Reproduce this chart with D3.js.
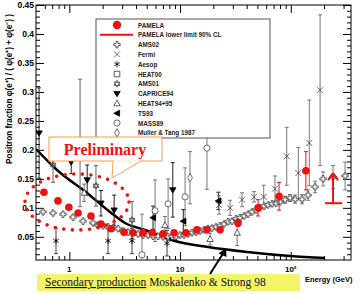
<!DOCTYPE html>
<html><head><meta charset="utf-8">
<script src="https://cdn.jsdelivr.net/npm/d3@7"></script>
<style>
html,body{margin:0;padding:0;background:#fff;}
svg{display:block;}
</style></head>
<body><svg id="c" width="360" height="294"></svg>
<script>
// ---------------- data ----------------
const yTickValues = [0.05,0.1,0.15,0.2,0.25,0.3,0.35,0.4,0.45];
const yTickLabels = ["0.05","0.1","0.15","0.2","0.25","0.3","0.35","0.4","0.45"];
const xTickValues = [1,10,100];
const xTickLabels = ["1","10","10²"];

const pamelaE   = [0.59,0.79,0.99,1.20,1.57,1.93,2.38,3.12,3.76,4.63,5.59,7.02,8.83,11.3,14.2,17.5,23.0,33.4,50.7,78.4,137];
const pamelaF   = [0.127,0.112,0.101,0.091,0.086,0.072,0.064,0.058,0.057,0.057,0.057,0.055,0.057,0.057,0.062,0.062,0.062,0.074,0.100,0.120,0.164];
const pamelaErr = [0.002,0.002,0.002,0.002,0.002,0.002,0.002,0.002,0.002,0.002,0.002,0.002,0.002,0.002,0.003,0.003,0.004,0.006,0.014,0.024,0.033];

const limitE = 241, limitLoE = 204, limitHiE = 291, limitF = 0.108, limitArrowF = 0.16;

const ams02E = [0.579,0.712,0.877,1.080,1.330,1.637,1.816,2.016,2.237,2.482,2.754,3.056,3.391,3.762,4.175,4.633,5.139,5.703,6.328,7.021,7.791,8.469,9.203,10.0,10.87,11.81,12.84,13.95,15.16,16.48,17.90,19.46,21.15,22.98,24.98,27.14,29.50,32.06,34.84,37.86,41.15,44.72,48.60,52.81,57.39,62.37,67.78,73.66,80.05,88.8,98.6,109.4,126.5,143.3,165.8,195.8,241.1,309.5];
const ams02F = [0.093,0.091,0.089,0.084,0.077,0.074,0.070,0.069,0.067,0.065,0.064,0.060,0.058,0.057,0.055,0.053,0.053,0.051,0.051,0.050,0.050,0.051,0.051,0.053,0.053,0.055,0.057,0.058,0.060,0.062,0.064,0.065,0.067,0.069,0.072,0.076,0.077,0.081,0.083,0.086,0.089,0.093,0.096,0.100,0.103,0.105,0.107,0.108,0.110,0.114,0.117,0.115,0.115,0.122,0.136,0.150,0.153,0.155];
const ams02Err = [0.003,0.003,0.003,0.003,0.003,0.003,0.003,0.003,0.003,0.003,0.003,0.003,0.003,0.003,0.003,0.003,0.003,0.003,0.003,0.003,0.003,0.003,0.003,0.003,0.003,0.003,0.003,0.003,0.003,0.003,0.003,0.003,0.003,0.003,0.003,0.003,0.003,0.003,0.003,0.003,0.004,0.004,0.004,0.004,0.004,0.005,0.005,0.005,0.005,0.006,0.006,0.007,0.008,0.009,0.010,0.012,0.020,0.024];

const fermiE   = [22.5,28.3,36.3,46.6,57,72,92,117,147,184];
const fermiF   = [0.105,0.100,0.114,0.119,0.119,0.133,0.189,0.160,0.212,0.303];
const fermiErr = [0.016,0.013,0.012,0.009,0.020,0.022,0.050,0.044,0.074,0.130];

const aesopE   = [0.758,2.237,3.68,7.63];
const aesopF   = [0.043,0.043,0.043,0.039];
const aesopErr = [0.022,0.022,0.022,0.022];

const ams01E   = [0.713,1.25,1.74,3.69];
const ams01F   = [0.174,0.212,0.138,0.079];
const ams01Err = [0.030,0.110,0.035,0.032];

const capriceE   = [0.533,1.04,1.45,1.93,2.54,8.6];
const capriceF   = [0.229,0.179,0.148,0.108,0.096,0.131];
const capriceErr = [0.078,0.020,0.026,0.022,0.026,0.047];

const heat9495E   = [1.36,7.3,18.7,32.8];
const heat9495F   = [0.126,0.070,0.046,0.057];
const heat9495Err = [0.015,0.015,0.010,0.022];

const ts93E   = [5.7,10.7,22.2];
const ts93F   = [0.083,0.077,0.112];
const ts93Err = [0.020,0.020,0.015];

const mass89E   = [4.53,5.95,7.8,11.1,17.5];
const mass89F   = [0.019,0.095,0.107,0.119,0.203];
const mass89Err = [0.070,0.053,0.043,0.050,0.071];

const mullerE   = [12.3];
const mullerF   = [0.152];
const mullerErr = [0.045];

const heat00E = [], heat00F = [], heat00Err = [];

const secE = [0.50,0.774,1.445,2.332,3.185,4.83,9.01,17.9,40.3,98.6,204];
const secF = [0.2015,0.1653,0.1256,0.0928,0.0738,0.0618,0.0428,0.0324,0.0238,0.0169,0.0135];

const legendLabels = ["PAMELA","PAMELA lower limit 90% CL","AMS02","Fermi","Aesop","HEAT00","AMS01","CAPRICE94","HEAT94+95","TS93","MASS89","Muller & Tang 1987"];

// ---------------- drawing ----------------
const svg = d3.select("#c");
const L=36, R=351, T=5, B=260;
const x = d3.scaleLog().domain([0.5,350]).range([L,R]);
const y = d3.scaleLinear().domain([0.01,0.45]).range([B,T]);
const RED = "#ee1111";

svg.append("defs").append("clipPath").attr("id","clip")
  .append("rect").attr("x",L).attr("y",T).attr("width",R-L).attr("height",B-T);

// ticks
const minorX = [];
[0.1,1,10,100].forEach(d=>{for(let k=2;k<=9;k++){const v=d*k; if(v>0.5&&v<350) minorX.push(v);}});
const minorY = d3.range(2,45).map(d=>d/100).filter(v=>Math.round(v*100)%5!==0);

function ax(gen, tx, ty){ const g=svg.append("g").attr("transform",`translate(${tx},${ty})`).call(gen);
  g.select(".domain").remove(); g.selectAll("line").attr("stroke","#000"); return g;}
ax(d3.axisBottom(x).tickValues(minorX).tickSize(-4).tickFormat(""),0,B);
ax(d3.axisBottom(x).tickValues(xTickValues).tickSize(-8).tickFormat(""),0,B);
ax(d3.axisTop(x).tickValues(minorX).tickSize(-4).tickFormat(""),0,T);
ax(d3.axisTop(x).tickValues(xTickValues).tickSize(-8).tickFormat(""),0,T);
ax(d3.axisLeft(y).tickValues(minorY).tickSize(-4).tickFormat(""),L,0);
ax(d3.axisLeft(y).tickValues(yTickValues).tickSize(-8).tickFormat(""),L,0);
ax(d3.axisRight(y).tickValues(minorY).tickSize(-4).tickFormat(""),R,0);
ax(d3.axisRight(y).tickValues(yTickValues).tickSize(-8).tickFormat(""),R,0);

svg.append("rect").attr("x",L).attr("y",T).attr("width",R-L).attr("height",B-T)
  .attr("fill","none").attr("stroke","#000").attr("stroke-width",1);

// tick labels
svg.selectAll(".yl").data(yTickValues).enter().append("text")
  .attr("x",L-2).attr("y",d=>y(d)+3).attr("text-anchor","end")
  .attr("font-family","Liberation Sans, Arial, sans-serif").attr("font-weight","bold").attr("font-size",8.5)
  .text((d,i)=>yTickLabels[i]);
svg.selectAll(".xl").data(xTickValues).enter().append("text")
  .attr("x",d=>x(d)).attr("y",272).attr("text-anchor","middle")
  .attr("font-family","Liberation Sans, Arial, sans-serif").attr("font-weight","bold").attr("font-size",8)
  .text((d,i)=>xTickLabels[i]);

svg.append("text").attr("transform","translate(12,164) rotate(-90)")
  .attr("font-family","Liberation Sans, Arial, sans-serif").attr("font-weight","bold").attr("font-size",8.5)
  .attr("textLength",150).attr("lengthAdjust","spacingAndGlyphs")
  .text("Positron fraction φ(e⁺) / ( φ(e⁺) + φ(e⁻) )");
svg.append("text").attr("x",305).attr("y",282)
  .attr("font-family","Liberation Sans, Arial, sans-serif").attr("font-weight","bold").attr("font-size",7.5)
  .text("Energy (GeV)");

const plot = svg.append("g").attr("clip-path","url(#clip)");

// secondary production curve
plot.append("path").datum(secE.map((e,i)=>[e,secF[i]]))
  .attr("d", d3.line().x(d=>x(d[0])).y(d=>y(d[1])).curve(d3.curveMonotoneX))
  .attr("fill","none").attr("stroke","#000").attr("stroke-width",2.5);

// marker shapes
const shapes = {
  ams02: "M-1,-3.2H1V-1H3.2V1H1V3.2H-1V1H-3.2V-1H-1Z",
  fermi: "M-3,-3L3,3M-3,3L3,-3",
  aesop: "M0,-3.2V3.2M-2.8,-1.6L2.8,1.6M-2.8,1.6L2.8,-1.6",
  heat00: "M-2.8,-2.8H2.8V2.8H-2.8Z",
  ams01: "M0,-3.4L2.9,1.7H-2.9ZM0,3.4L2.9,-1.7H-2.9Z",
  caprice: "M-3.2,-2.2H3.2L0,3.2Z",
  heat9495: "M0,-3.4L3.2,2.4H-3.2Z",
  ts93: "M-3.2,0L2.6,-3L2.6,3Z",
  mass89: d3.symbol(d3.symbolCircle, 30)(),
  muller: "M0,-4.2L2.4,0L0,4.2L-2.4,0Z"
};
const styles = {
  ams02:{fill:"#fff",stroke:"#333",bar:"#777"},
  fermi:{fill:"none",stroke:"#444",bar:"#777"},
  aesop:{fill:"none",stroke:"#000",bar:"#444"},
  heat00:{fill:"#fff",stroke:"#333",bar:"#777"},
  ams01:{fill:"#fff",stroke:"#444",bar:"#666"},
  caprice:{fill:"#000",stroke:"#000",bar:"#222"},
  heat9495:{fill:"#fff",stroke:"#333",bar:"#777"},
  ts93:{fill:"#000",stroke:"#000",bar:"#222"},
  mass89:{fill:"#fff",stroke:"#444",bar:"#777"},
  muller:{fill:"#fff",stroke:"#444",bar:"#777"}
};
const series = [
  ["ams02",ams02E,ams02F,ams02Err],
  ["mass89",mass89E,mass89F,mass89Err],
  ["muller",mullerE,mullerF,mullerErr],
  ["heat9495",heat9495E,heat9495F,heat9495Err],
  ["heat00",heat00E,heat00F,heat00Err],
  ["ams01",ams01E,ams01F,ams01Err],
  ["aesop",aesopE,aesopF,aesopErr],
  ["caprice",capriceE,capriceF,capriceErr],
  ["ts93",ts93E,ts93F,ts93Err],
  ["fermi",fermiE,fermiF,fermiErr]
];
function errBars(g, E, F, Err, color, w){
  const d = E.map((e,i)=>({e,f:F[i],s:Err[i]}));
  const gg = g.append("g").attr("stroke",color).attr("stroke-width",w);
  gg.selectAll(".v").data(d).enter().append("line")
    .attr("x1",d=>x(d.e)).attr("x2",d=>x(d.e)).attr("y1",d=>y(d.f-d.s)).attr("y2",d=>y(d.f+d.s));
  gg.selectAll(".c1").data(d.filter(p=>p.s>0.005)).enter().append("line")
    .attr("x1",d=>x(d.e)-2).attr("x2",d=>x(d.e)+2).attr("y1",d=>y(d.f-d.s)).attr("y2",d=>y(d.f-d.s));
  gg.selectAll(".c2").data(d.filter(p=>p.s>0.005)).enter().append("line")
    .attr("x1",d=>x(d.e)-2).attr("x2",d=>x(d.e)+2).attr("y1",d=>y(d.f+d.s)).attr("y2",d=>y(d.f+d.s));
}
series.forEach(([k,E,F,Err])=>{
  errBars(plot,E,F,Err,styles[k].bar,1);
});
series.forEach(([k,E,F])=>{
  plot.append("g").selectAll("path").data(E.map((e,i)=>[e,F[i]])).enter().append("path")
    .attr("d",shapes[k]).attr("transform",d=>`translate(${x(d[0])},${y(d[1])})`)
    .attr("fill",styles[k].fill).attr("stroke",styles[k].stroke).attr("stroke-width",0.8);
});

// PAMELA
errBars(plot,pamelaE,pamelaF,pamelaErr,RED,1);
plot.append("g").selectAll("circle").data(pamelaE.map((e,i)=>[e,pamelaF[i]])).enter().append("circle")
  .attr("cx",d=>x(d[0])).attr("cy",d=>y(d[1])).attr("r",3.8).attr("fill",RED);

// PAMELA lower limit
plot.append("line").attr("x1",x(limitLoE)).attr("x2",x(limitHiE)).attr("y1",y(limitF)).attr("y2",y(limitF))
  .attr("stroke",RED).attr("stroke-width",2);
plot.append("line").attr("x1",x(limitE)).attr("x2",x(limitE)).attr("y1",y(limitF)).attr("y2",y(limitArrowF)+1)
  .attr("stroke",RED).attr("stroke-width",2);
plot.append("path").attr("d",`M${x(limitE)},${y(limitArrowF)}l-5,7M${x(limitE)},${y(limitArrowF)}l5,7`)
  .attr("stroke",RED).attr("stroke-width",2).attr("fill","none");

// red dotted ellipse
svg.append("ellipse").attr("cx",77).attr("cy",202).attr("rx",52).attr("ry",28)
  .attr("fill","none").attr("stroke",RED).attr("stroke-width",3.6)
  .attr("stroke-dasharray","0 8.6").attr("stroke-linecap","round");

// legend
const lg = svg.append("g");
lg.append("rect").attr("x",96).attr("y",19).attr("width",174).attr("height",119)
  .attr("fill","#fff").attr("stroke","#555").attr("stroke-width",1);
const legY = d3.range(12).map(i=>25+i*9.8);
const legKeys = ["pamela","limit","ams02","fermi","aesop","heat00","ams01","caprice","heat9495","ts93","mass89","muller"];
legKeys.forEach((k,i)=>{
  const yy = legY[i];
  if(k==="pamela") lg.append("circle").attr("cx",117).attr("cy",yy).attr("r",4.2).attr("fill",RED);
  else if(k==="limit") lg.append("line").attr("x1",100).attr("x2",133).attr("y1",yy).attr("y2",yy).attr("stroke",RED).attr("stroke-width",2);
  else lg.append("path").attr("d",shapes[k]).attr("transform",`translate(117,${yy})`)
    .attr("fill",styles[k].fill).attr("stroke",styles[k].stroke).attr("stroke-width",0.8);
  lg.append("text").attr("x",138).attr("y",yy+2.5)
    .attr("font-family","Liberation Sans, Arial, sans-serif").attr("font-weight","bold").attr("font-size",6.3)
    .attr("fill","#222").text(legendLabels[i]);
});

// Preliminary callout
svg.append("path").attr("d","M113,161L112,178L141,161").attr("fill","#fff").attr("stroke","#f0a060").attr("stroke-width",1);
svg.append("rect").attr("x",49).attr("y",137).attr("width",113).attr("height",24)
  .attr("fill","#fff").attr("stroke","#f0a060").attr("stroke-width",1);
svg.append("line").attr("x1",114).attr("x2",140).attr("y1",161).attr("y2",161).attr("stroke","#fff").attr("stroke-width",1.5);
svg.append("text").attr("x",105).attr("y",155).attr("text-anchor","middle")
  .attr("font-family","Liberation Serif, Times New Roman, serif").attr("font-weight","bold").attr("font-size",16)
  .attr("fill",RED).text("Preliminary");

// yellow box
svg.append("rect").attr("x",37).attr("y",274).attr("width",263).attr("height",17).attr("fill","#f4f46a");
const st = svg.append("text").attr("x",45).attr("y",286)
  .attr("font-family","Liberation Serif, Times New Roman, serif").attr("font-size",11.5).attr("fill","#111");
st.append("tspan").attr("text-decoration","underline").text("Secondary production");
st.append("tspan").text(" Moskalenko & Strong 98");

// arrow
svg.append("line").attr("x1",210).attr("y1",274).attr("x2",224).attr("y2",252).attr("stroke","#000").attr("stroke-width",2);
svg.append("path").attr("d","M226,248L218.5,253.5L226.5,257Z").attr("fill","#000");
</script></body></html>
